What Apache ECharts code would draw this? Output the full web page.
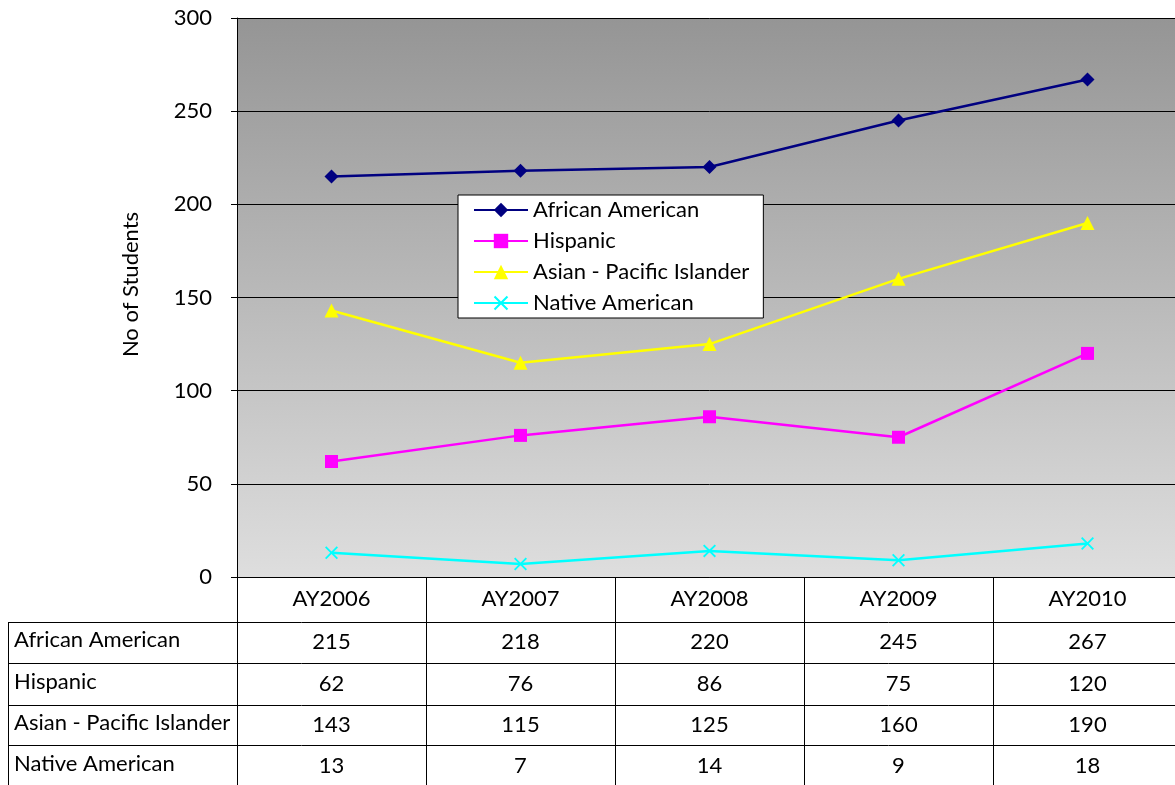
<!DOCTYPE html>
<html>
<head>
<meta charset="utf-8">
<title>No of Students</title>
<script src="https://cdn.jsdelivr.net/npm/echarts@6/dist/echarts.min.js"></script>
<style>
    html, body { margin: 0; padding: 0; background: #fff; overflow: hidden; }
    /* plot area runs a few px past the right edge of the window, like the original */
    #chart1 { width: 1182px; height: 785px; }
</style>
</head>
<body>
<div id="chart1"></div>
<script>
// data
var years = ['AY2006', 'AY2007', 'AY2008', 'AY2009', 'AY2010'];
var africanAmerican = [215, 218, 220, 245, 267];
var hispanic = [62, 76, 86, 75, 120];
var asianPacific = [143, 115, 125, 160, 190];
var nativeAmerican = [13, 7, 14, 9, 18];
var seriesNames = ['African American', 'Hispanic', 'Asian - Pacific Islander', 'Native American'];
var yTicks = [0, 50, 100, 150, 200, 250, 300];

var seriesData = [africanAmerican, hispanic, asianPacific, nativeAmerican];
var colors = ['#000080', '#ff00ff', '#ffff00', '#00ffff'];
var symbols = ['diamond', 'rect', 'triangle',
    'path://M0,1L1,0L5,4L9,0L10,1L6,5L10,9L9,10L5,6L1,10L0,9L4,5Z'];
var symbolSizes = [14, 13, 14, 13];

// layout (pixels)
var font = 'Lato';
var fontSize = 22;
var gridLeft = 237, gridTop = 18, gridBottom = 577, colW = 189;
var tableLeft = 8;
var rowLines = [622, 663, 705, 745];
var rowMid = [642, 684, 725, 766];

var myChart = echarts.init(document.getElementById('chart1'));

// table under the plot: lines + texts
var graphics = [];
var lineStyle = { stroke: '#000', lineWidth: 1 };
var tableRight = gridLeft + colW * years.length;
rowLines.forEach(function (y) {
    graphics.push({ type: 'line', silent: true, shape: { x1: tableLeft, y1: y + 0.5, x2: tableRight, y2: y + 0.5 }, style: lineStyle });
});
graphics.push({ type: 'line', silent: true, shape: { x1: tableLeft + 0.5, y1: rowLines[0], x2: tableLeft + 0.5, y2: 785 }, style: lineStyle });
for (var c = 0; c <= years.length; c++) {
    var x = gridLeft + colW * c + 0.5;
    graphics.push({ type: 'line', silent: true, shape: { x1: x, y1: gridBottom, x2: x, y2: 785 }, style: lineStyle });
}
seriesNames.forEach(function (name, r) {
    graphics.push({
        type: 'text', silent: true, left: 14, top: rowMid[r] - 13,
        style: { text: name, font: fontSize + 'px ' + font, fill: '#000' }
    });
    seriesData[r].forEach(function (v, c) {
        graphics.push({
            type: 'text', silent: true,
            x: gridLeft + colW * (c + 0.5), y: rowMid[r],
            style: { text: String(v), font: fontSize + 'px ' + font, fill: '#000', align: 'center', verticalAlign: 'middle' }
        });
    });
});

var option = {
    backgroundColor: '#fff',
    animation: false,
    textStyle: { fontFamily: font },
    grid: {
        left: gridLeft, top: gridTop,
        right: 0,
        bottom: 785 - gridBottom,
        containLabel: false,
        show: true, borderWidth: 0,
        backgroundColor: new echarts.graphic.LinearGradient(0, 0, 0, 1, [
            { offset: 0, color: '#959595' },
            { offset: 1, color: '#dedede' }
        ])
    },
    legend: {
        orient: 'vertical',
        left: 458, top: 195,
        padding: [3, 14, 3, 15],
        backgroundColor: '#fff',
        borderColor: '#000', borderWidth: 1,
        itemWidth: 54, itemHeight: 18, itemGap: 7,
        textStyle: { fontSize: fontSize, lineHeight: 24, color: '#000', fontFamily: font },
        data: seriesNames
    },
    xAxis: {
        type: 'category',
        data: years,
        boundaryGap: true,
        axisLine: { show: true, lineStyle: { color: '#000', width: 1 } },
        axisTick: { show: false },
        axisLabel: { margin: 11, fontSize: fontSize, color: '#000', fontFamily: font, interval: 0 }
    },
    yAxis: {
        type: 'value',
        min: yTicks[0], max: yTicks[yTicks.length - 1], interval: yTicks[1] - yTicks[0],
        name: 'No of Students',
        nameLocation: 'middle',
        nameGap: 95,
        nameTextStyle: { fontSize: fontSize, color: '#000', fontFamily: font, padding: [0, 0, 0, 26] },
        axisLine: { show: true, lineStyle: { color: '#000', width: 1 } },
        axisTick: { show: true, length: 6, lineStyle: { color: '#000' } },
        axisLabel: { margin: 25, fontSize: fontSize, color: '#000', fontFamily: font },
        splitLine: { show: true, lineStyle: { color: '#000', width: 1 } }
    },
    series: seriesNames.map(function (name, i) {
        return {
            name: name,
            type: 'line',
            data: seriesData[i],
            symbol: symbols[i],
            symbolSize: symbolSizes[i],
            showAllSymbol: true,
            color: colors[i],
            lineStyle: { color: colors[i], width: 2.5 },
            itemStyle: { color: colors[i] }
        };
    }),
    graphic: graphics
};

myChart.setOption(option);
</script>
</body>
</html>
